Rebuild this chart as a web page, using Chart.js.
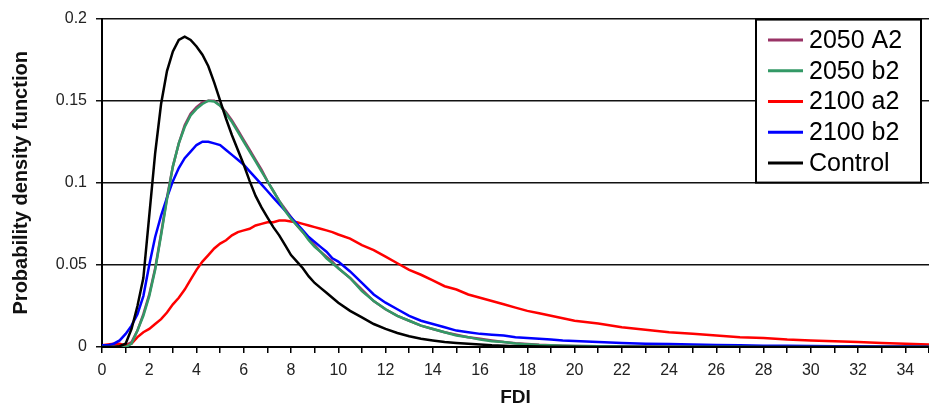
<!DOCTYPE html>
<html lang="en">
<head>
    <meta charset="utf-8">
    <title>FDI probability density</title>
    <script src="https://cdn.jsdelivr.net/npm/chart.js@4/dist/chart.umd.min.js"></script>
    <style>
        body { margin: 0; background: #fff; }
        #gr { display: block; }
    </style>
    <script>
        // FDI values (x axis)
        const xs = [0, 0.25, 0.5, 0.75, 1, 1.25, 1.5, 1.75, 2, 2.25, 2.5, 2.75, 3, 3.25, 3.5, 3.75, 4, 4.25, 4.5, 4.75,
            5, 5.25, 5.5, 5.75, 6, 6.25, 6.5, 6.75, 7, 7.25, 7.5, 7.75, 8, 8.25, 8.5, 8.75, 9, 9.25, 9.5, 9.75, 10,
            10.5, 11, 11.5, 12, 12.5, 13, 13.5, 14, 14.5, 15, 15.5, 16, 16.5, 17, 17.5, 18, 18.5, 19, 19.5, 20,
            21, 22, 23, 24, 25, 26, 27, 28, 29, 30, 31, 32, 33, 34, 35];

        const labels = ["2050 A2", "2050 b2", "2100 a2", "2100 b2", "Control"];
        const colors = ["#993366", "#339966", "#ff0000", "#0000ff", "#000000"];

        const a2_2050 = [0.001, 0.001, 0.001, 0.001, 0.001, 0.003, 0.010, 0.020, 0.032, 0.048, 0.069, 0.091, 0.110, 0.124, 0.135, 0.142, 0.146, 0.149, 0.150, 0.150,
            0.147, 0.143, 0.138, 0.132, 0.126, 0.120, 0.114, 0.108, 0.101, 0.095, 0.089, 0.084, 0.079, 0.074, 0.070, 0.066, 0.062, 0.058, 0.055, 0.052, 0.048,
            0.042, 0.035, 0.028, 0.023, 0.019, 0.016, 0.013, 0.011, 0.009, 0.0075, 0.006, 0.005, 0.004, 0.003, 0.0023, 0.0018, 0.0013, 0.001, 0.0008, 0.0006,
            0.0005, 0.0004, 0.0003, 0.0002, 0.0002, 0.0001, 0.0001, 0.0001, 0, 0, 0, 0, 0, 0, 0];

        const b2_2050 = [0, 0, 0, 0, 0, 0.002, 0.010, 0.019, 0.031, 0.047, 0.068, 0.090, 0.110, 0.124, 0.134, 0.141, 0.145, 0.148, 0.150, 0.1495,
            0.147, 0.142, 0.137, 0.131, 0.125, 0.119, 0.113, 0.107, 0.101, 0.095, 0.089, 0.083, 0.078, 0.074, 0.070, 0.065, 0.061, 0.058, 0.054, 0.051, 0.048,
            0.042, 0.034, 0.028, 0.023, 0.019, 0.016, 0.013, 0.011, 0.009, 0.007, 0.006, 0.0045, 0.0035, 0.003, 0.0022, 0.0016, 0.0012, 0.001, 0.0008, 0.0006,
            0.0004, 0.0003, 0.0002, 0.0002, 0.0001, 0.0001, 0.0001, 0, 0, 0, 0, 0, 0, 0, 0];

        const a2_2100 = [0.001, 0.0015, 0.002, 0.002, 0.001, 0.002, 0.006, 0.009, 0.011, 0.014, 0.017, 0.021, 0.026, 0.030, 0.035, 0.041, 0.047, 0.052, 0.056, 0.060,
            0.063, 0.065, 0.068, 0.070, 0.071, 0.072, 0.074, 0.075, 0.076, 0.076, 0.077, 0.077, 0.0765, 0.076, 0.075, 0.074, 0.073, 0.072, 0.071, 0.070, 0.0685,
            0.066, 0.062, 0.059, 0.055, 0.051, 0.047, 0.044, 0.0405, 0.037, 0.035, 0.032, 0.030, 0.028, 0.026, 0.024, 0.022, 0.0205, 0.019, 0.0175, 0.016,
            0.0143, 0.012, 0.0105, 0.009, 0.008, 0.007, 0.006, 0.0055, 0.0045, 0.004, 0.0035, 0.003, 0.0025, 0.002, 0.0015];

        const b2_2100 = [0.001, 0.001, 0.002, 0.004, 0.008, 0.013, 0.020, 0.031, 0.050, 0.067, 0.080, 0.091, 0.101, 0.109, 0.115, 0.119, 0.123, 0.125, 0.125, 0.124,
            0.123, 0.120, 0.117, 0.114, 0.111, 0.107, 0.103, 0.099, 0.095, 0.091, 0.087, 0.083, 0.079, 0.075, 0.071, 0.067, 0.064, 0.061, 0.058, 0.054, 0.052,
            0.046, 0.039, 0.032, 0.027, 0.023, 0.019, 0.016, 0.014, 0.012, 0.010, 0.009, 0.008, 0.0075, 0.007, 0.006, 0.0055, 0.005, 0.0045, 0.004, 0.0037,
            0.003, 0.0025, 0.002, 0.0018, 0.0015, 0.0012, 0.001, 0.0008, 0.0007, 0.0006, 0.0005, 0.0004, 0.0003, 0.0003, 0.0002];

        const control = [0, 0, 0, 0.0005, 0.002, 0.011, 0.025, 0.042, 0.080, 0.118, 0.148, 0.168, 0.180, 0.187, 0.189, 0.187, 0.183, 0.178, 0.171, 0.161,
            0.150, 0.139, 0.129, 0.120, 0.111, 0.101, 0.092, 0.085, 0.079, 0.073, 0.068, 0.062, 0.056, 0.052, 0.048, 0.043, 0.039, 0.036, 0.033, 0.030, 0.027,
            0.022, 0.018, 0.014, 0.011, 0.0085, 0.0065, 0.005, 0.004, 0.003, 0.0025, 0.002, 0.0015, 0.001, 0.0007, 0.0005, 0.0004, 0.0003, 0.0002, 0.0001, 0.0001,
            0, 0, 0, 0, 0, 0, 0, 0, 0, 0, 0, 0, 0, 0, 0];

        const series = [a2_2050, b2_2050, a2_2100, b2_2100, control];
        // drawing order: higher is drawn first (underneath)
        const drawOrder = [5, 2, 4, 3, 1];

        function pts(ys) {
            return xs.map((x, i) => ({ x: x, y: ys[i] }));
        }

        // legend in a framed box at the top right of the plot
        const boxLegend = {
            id: 'boxLegend',
            afterDraw(chart) {
                const ctx = chart.ctx;
                const area = chart.chartArea;
                const w = 165, h = 163;
                const bx = area.right - 8 - w, by = area.top + 1;
                ctx.save();
                ctx.fillStyle = '#fff';
                ctx.fillRect(bx, by, w, h);
                ctx.lineWidth = 2;
                ctx.strokeStyle = '#000';
                ctx.strokeRect(bx, by, w, h);
                ctx.font = '25px Arial, "Liberation Sans", sans-serif';
                ctx.textBaseline = 'middle';
                ctx.fillStyle = '#000';
                chart.data.datasets.forEach((ds, i) => {
                    const cy = by + 20.5 + i * 30.7;
                    ctx.beginPath();
                    ctx.strokeStyle = ds.borderColor;
                    ctx.lineWidth = 3;
                    ctx.moveTo(bx + 12, cy);
                    ctx.lineTo(bx + 47, cy);
                    ctx.stroke();
                    ctx.fillText(ds.label, bx + 53, cy + 1);
                });
                ctx.restore();
            }
        };

        window.onload = function () {
            Chart.defaults.font.family = 'Arial, "Liberation Sans", sans-serif';
            Chart.defaults.color = '#222';

            const drawg = document.getElementById("gr").getContext("2d");
            new Chart(drawg, {
                type: 'line',
                data: {
                    datasets: series.map((s, i) => ({
                        label: labels[i],
                        data: pts(s),
                        borderColor: colors[i],
                        backgroundColor: colors[i],
                        borderWidth: 2.5,
                        pointRadius: 0,
                        tension: 0,
                        fill: false,
                        order: drawOrder[i]
                    }))
                },
                options: {
                    responsive: false,
                    animation: false,
                    layout: { padding: { top: 17, right: 0, bottom: 0, left: 0 } },
                    plugins: {
                        legend: { display: false },
                        tooltip: { enabled: false }
                    },
                    scales: {
                        x: {
                            type: 'linear',
                            min: 0,
                            max: 35,
                            afterFit: (scale) => { scale.height = 65; scale.paddingRight = 0; },
                            ticks: {
                                stepSize: 1,
                                autoSkip: false,
                                maxRotation: 0,
                                padding: 8,
                                font: { size: 16 },
                                color: '#222',
                                callback: (v) => (v % 2 === 0 && v < 35) ? String(v) : ''
                            },
                            grid: { drawOnChartArea: false, drawTicks: true, tickLength: 6, color: '#000', lineWidth: 1.5 },
                            border: { color: '#000', width: 2 },
                            title: {
                                display: true,
                                text: 'FDI',
                                color: '#111',
                                font: { size: 19, weight: 'bold' },
                                padding: { top: 0, bottom: 3 }
                            }
                        },
                        y: {
                            min: 0,
                            max: 0.2,
                            afterFit: (scale) => { scale.width = 102; },
                            ticks: {
                                stepSize: 0.05,
                                padding: 9,
                                font: { size: 16 },
                                color: '#222',
                                callback: (v) => String(+v.toFixed(2))
                            },
                            grid: { color: '#111', lineWidth: 1.5, tickLength: 6 },
                            border: { color: '#000', width: 2 },
                            title: {
                                display: true,
                                text: 'Probability density function',
                                color: '#111',
                                font: { size: 20, weight: 'bold' },
                                padding: { top: 9, bottom: 0 }
                            }
                        }
                    }
                },
                plugins: [boxLegend]
            });
        };
    </script>
</head>
<body>
    <canvas id="gr" width="929" height="412"></canvas>
</body>
</html>
